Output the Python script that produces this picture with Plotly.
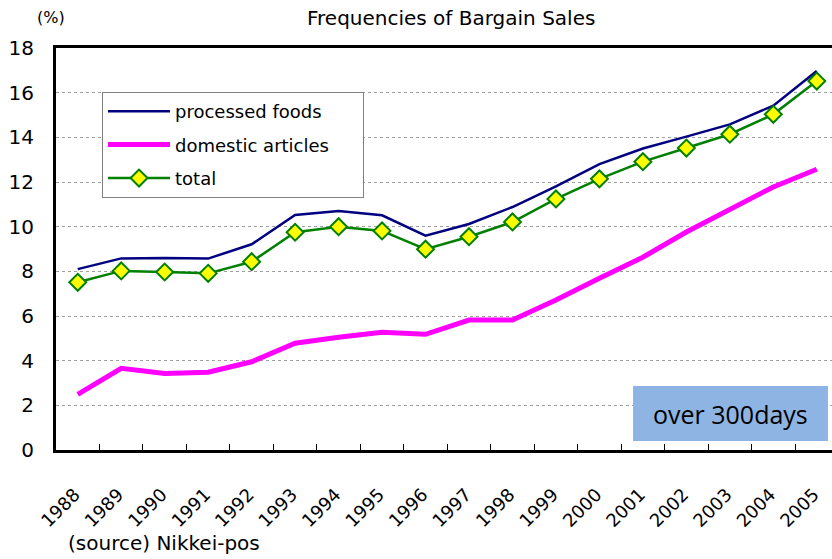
import plotly.graph_objects as go

years = [str(y) for y in range(1988, 2006)]
processed_foods = [8.1, 8.58, 8.6, 8.57, 9.21, 10.52, 10.7, 10.51, 9.6, 10.12, 10.88, 11.8, 12.8, 13.5, 14.03, 14.58, 15.42, 16.97]
domestic_articles = [2.49, 3.66, 3.43, 3.48, 3.95, 4.78, 5.05, 5.27, 5.18, 5.82, 5.82, 6.72, 7.69, 8.63, 9.76, 10.75, 11.78, 12.57]
total = [7.51, 8.02, 7.97, 7.91, 8.43, 9.75, 10.0, 9.81, 8.99, 9.55, 10.21, 11.24, 12.14, 12.91, 13.52, 14.14, 15.03, 16.52]

FONT = "DejaVu Sans"

fig = go.Figure()
fig.add_trace(go.Scatter(x=years, y=processed_foods, name="processed foods", mode="lines",
                         line=dict(color="#000080", width=2.5), legendgroup="a"))
fig.add_trace(go.Scatter(x=years, y=domestic_articles, name="domestic articles" + "\u00a0" * 5, mode="lines",
                         line=dict(color="#FF00FF", width=5), legendgroup="b"))
fig.add_trace(go.Scatter(x=years, y=total, name="total", mode="lines+markers",
                         line=dict(color="#008000", width=2.5),
                         marker=dict(symbol="diamond", size=13, color="#FFFF00",
                                     line=dict(color="#008000", width=2)),
                         legendgroup="c"))

fig.update_layout(
    width=832, height=559,
    margin=dict(l=56, r=0, t=48, b=109),
    paper_bgcolor="white", plot_bgcolor="white",
    font=dict(family=FONT, color="black", size=16),
    showlegend=True,
    legend=dict(x=0.0593, y=0.8905, xanchor="left", yanchor="top",
                bgcolor="white", bordercolor="#808080", borderwidth=1,
                font=dict(size=18, family=FONT), tracegroupgap=7,
                itemwidth=62),
    xaxis=dict(type="category", range=[-0.5, 17.35], showline=True, linecolor="black",
               linewidth=3, mirror=True, ticks="inside", ticklen=6, tickcolor="black",
               tickwidth=1, tickson="boundaries", showgrid=False, tickangle=-45,
               tickfont=dict(size=18, family=FONT), ticklabelstandoff=24, ticklabelshift=-3,
               automargin=False),
    yaxis=dict(range=[0, 18], dtick=2, showline=True, linecolor="black", linewidth=3,
               showgrid=True, gridcolor="#A0A0A0", griddash="dot", gridwidth=1,
               ticks="", tickfont=dict(size=20, family=FONT), ticklabelstandoff=15,
               zeroline=False, automargin=False),
)

fig.add_shape(type="rect", xref="paper", yref="paper", x0=0.7436, x1=0.9948, y0=0.0224, y1=0.159,
              fillcolor="#8EB4E3", line=dict(width=0))
fig.add_annotation(xref="paper", yref="paper", x=(0.7436 + 0.9948) / 2, y=(0.0224 + 0.159) / 2,
                   xanchor="center", yanchor="middle",
                   text="over 300days", showarrow=False, font=dict(size=25, family="Open Sans", color="black"))
fig.add_annotation(xref="paper", yref="paper", x=0.509, xanchor="center", y=1, yshift=30, yanchor="middle",
                   text="Frequencies of Bargain Sales", showarrow=False, font=dict(size=20, family=FONT))
fig.add_annotation(xref="paper", yref="paper", x=0, xshift=-56 + 35, xanchor="left", y=1, yshift=31,
                   yanchor="middle", text="(%)", showarrow=False, font=dict(size=16, family=FONT))
fig.add_annotation(xref="paper", yref="paper", x=0, xshift=-56 + 66, xanchor="left", y=0, yshift=-93,
                   yanchor="middle", text="(source) Nikkei-pos", showarrow=False, font=dict(size=20, family=FONT))

fig.write_html("out.html", config={"displayModeBar": False},
               post_script="document.body.style.margin='0';")
